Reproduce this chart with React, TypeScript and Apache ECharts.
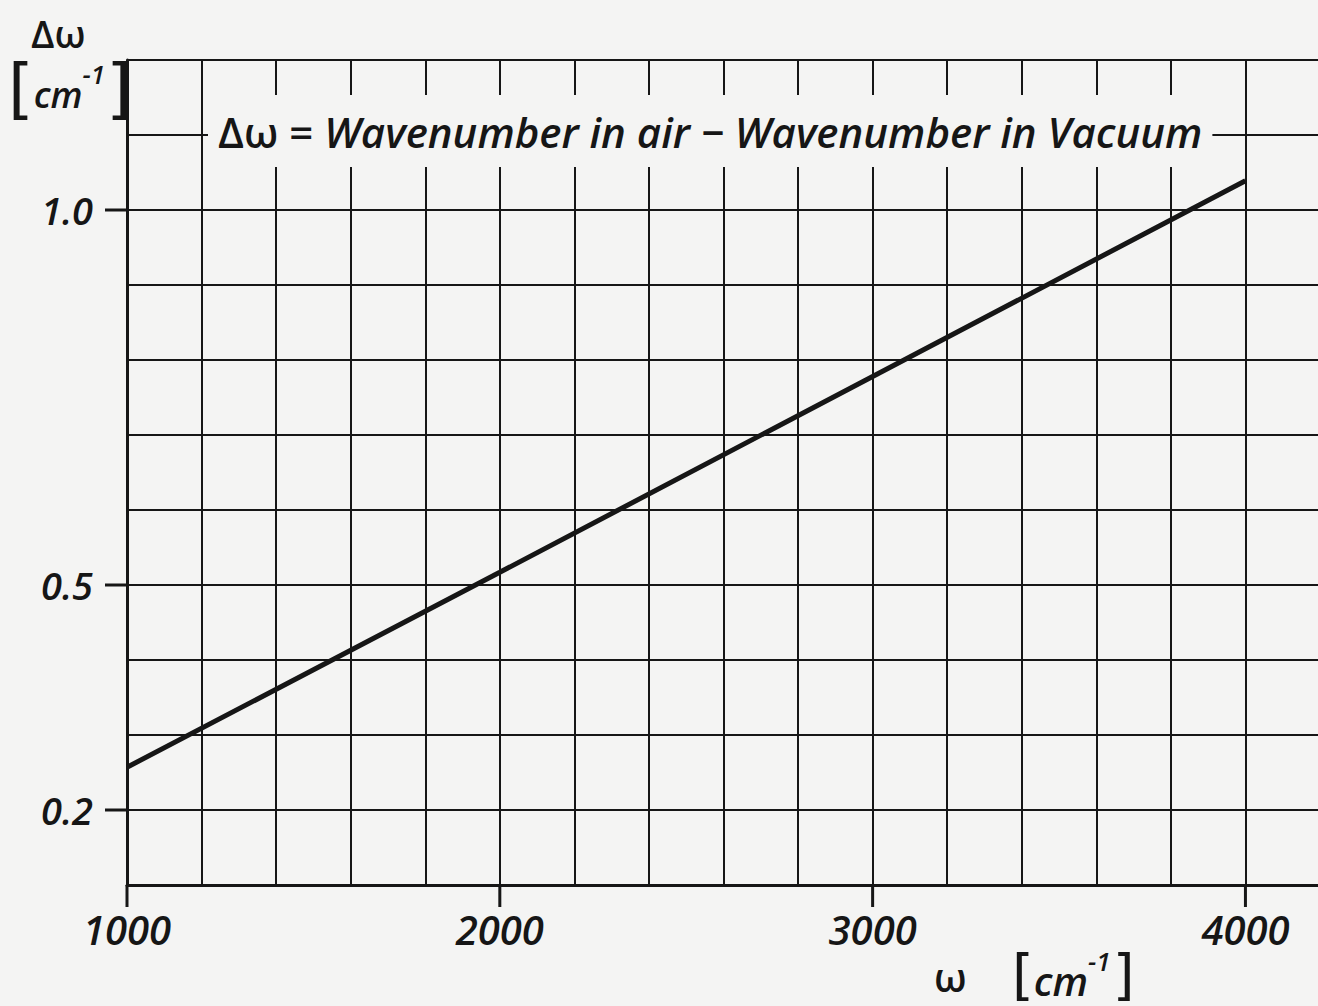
import React, { useEffect, useRef } from "react";
import * as echarts from "echarts";

// ---- data ----
const wavenumbers = [1000, 2000, 3000, 4000];
const deltaOmega = [0.257, 0.517, 0.778, 1.039];
const xLabelValues = [1000, 2000, 3000, 4000];
const yLabelValues = [0.2, 0.5, 1.0];
const xMin = 1000;
const xMax = 4200;
const xStep = 200;
const yMin = 0.1;
const yMax = 1.2;
const yStep = 0.1;
const titleText = "Wavenumber in air \u2212 Wavenumber in Vacuum";

const FONT = "Open Sans";
const INK = "#161616";
const BG = "#f4f4f3";

export default function App() {
  const ref = useRef<HTMLDivElement>(null);

  useEffect(() => {
    if (!ref.current) return;
    const chart = echarts.init(ref.current, null, { renderer: "svg" });
    const near = (v: number, list: number[]) => list.some((t) => Math.abs(t - v) < 1e-6);

    chart.setOption({
      animation: false,
      backgroundColor: BG,
      grid: {
        left: 127,
        width: 1193,
        top: 60,
        height: 825,
        containLabel: false,
        outerBoundsMode: "none",
      },
      title: {
        text: "{u|\u0394\u03c9 =} " + titleText,
        left: 208,
        top: 95,
        backgroundColor: BG,
        padding: [10, 10],
        textStyle: {
          fontFamily: FONT,
          fontStyle: "italic",
          fontWeight: 600,
          fontSize: 42,
          lineHeight: 52,
          color: INK,
          rich: {
            u: { fontFamily: FONT, fontStyle: "normal", fontWeight: 600, fontSize: 42, color: INK, lineHeight: 52 },
          },
        },
      },
      xAxis: {
        type: "value",
        min: xMin,
        max: xMax,
        interval: xStep,
        axisLine: { show: true, onZero: false, lineStyle: { color: INK, width: 3 } },
        axisTick: { show: false },
        axisLabel: {
          show: true,
          margin: 24,
          fontFamily: FONT,
          fontStyle: "italic",
          fontWeight: 600,
          fontSize: 40,
          color: INK,
          formatter: (v: number) => (near(v, xLabelValues) ? String(Math.round(v)) : ""),
        },
        splitLine: { show: true, lineStyle: { color: INK, width: 2 } },
      },
      yAxis: {
        type: "value",
        min: yMin,
        max: yMax,
        interval: yStep,
        axisLine: { show: true, onZero: false, lineStyle: { color: INK, width: 3 } },
        axisTick: { show: false },
        axisLabel: {
          show: true,
          margin: 34,
          fontFamily: FONT,
          fontStyle: "italic",
          fontWeight: 600,
          fontSize: 38,
          color: INK,
          formatter: (v: number) => (near(v, yLabelValues) ? v.toFixed(1) : ""),
        },
        splitLine: { show: true, lineStyle: { color: INK, width: 2 } },
      },
      series: [
        {
          type: "line",
          data: wavenumbers.map((w, i) => [w, deltaOmega[i]]),
          symbol: "none",
          lineStyle: { color: INK, width: 5 },
          z: 5,
        },
        {
          type: "custom",
          coordinateSystem: "cartesian2d",
          clip: false,
          silent: true,
          data: yLabelValues.map((v) => [xMin, v]),
          renderItem: (_p: any, api: any) => {
            const p = api.coord([api.value(0), api.value(1)]);
            return {
              type: "line",
              shape: { x1: p[0] - 22, y1: p[1], x2: p[0], y2: p[1] },
              style: { stroke: INK, lineWidth: 3 },
            };
          },
        },
        {
          type: "custom",
          coordinateSystem: "cartesian2d",
          clip: false,
          silent: true,
          data: xLabelValues.map((v) => [v, yMin]),
          renderItem: (_p: any, api: any) => {
            const p = api.coord([api.value(0), api.value(1)]);
            return {
              type: "line",
              shape: { x1: p[0], y1: p[1], x2: p[0], y2: p[1] + 22 },
              style: { stroke: INK, lineWidth: 3 },
            };
          },
        },
      ],
      graphic: [
        {
          type: "text",
          left: 31,
          top: 14,
          style: { text: "\u0394\u03c9", fontFamily: FONT, fontWeight: 600, fontSize: 38, fill: INK },
        },
        {
          type: "text",
          left: 8,
          top: 52,
          style: {
            text: "{b|[}{c|cm}{s|-1}{b|]}",
            fill: INK,
            rich: {
              b: { fontFamily: "DejaVu Sans", fontSize: 66, fill: INK, lineHeight: 72 },
              c: { fontFamily: FONT, fontStyle: "italic", fontWeight: 600, fontSize: 36, fill: INK, lineHeight: 72, verticalAlign: "bottom", padding: [0, 0, 12, 0] },
              s: { fontFamily: FONT, fontStyle: "italic", fontWeight: 600, fontSize: 26, fill: INK, lineHeight: 72, verticalAlign: "top", padding: [9, 1, 0, 0] },
            },
          },
        },
        {
          type: "text",
          left: 934,
          top: 956,
          style: { text: "\u03c9", fontFamily: FONT, fontWeight: 600, fontSize: 40, fill: INK },
        },
        {
          type: "text",
          left: 1012,
          top: 944,
          style: {
            text: "{b|[}{c|cm}{s|-1}{b|]}",
            fill: INK,
            rich: {
              b: { fontFamily: "DejaVu Sans", fontSize: 56, fill: INK, lineHeight: 60 },
              c: { fontFamily: FONT, fontStyle: "italic", fontWeight: 600, fontSize: 40, fill: INK, lineHeight: 60, verticalAlign: "bottom", padding: [0, 0, 4, 0] },
              s: { fontFamily: FONT, fontStyle: "italic", fontWeight: 600, fontSize: 26, fill: INK, lineHeight: 60, verticalAlign: "top", padding: [4, 2, 0, 0] },
            },
          },
        },
      ],
    });
    return () => chart.dispose();
  }, []);

  return (
    <div
      ref={ref}
      style={{ position: "fixed", left: 0, top: 0, width: 1318, height: 1006, background: BG }}
    />
  );
}
